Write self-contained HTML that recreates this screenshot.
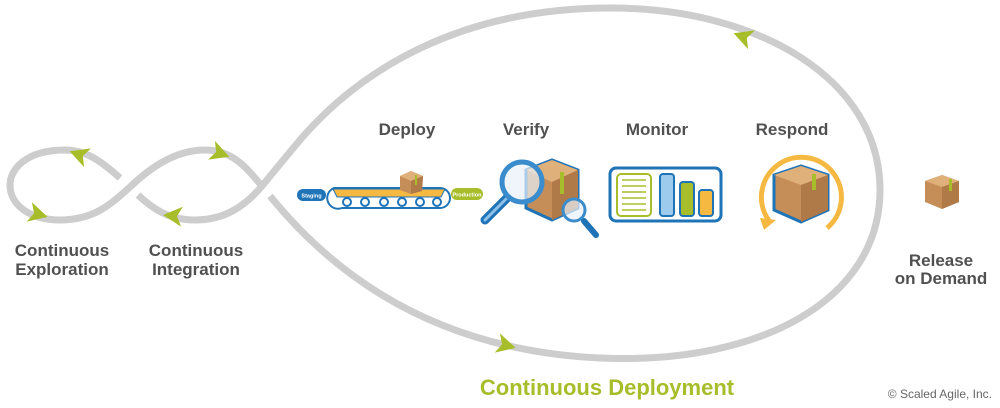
<!DOCTYPE html>
<html><head><meta charset="utf-8"><style>
html,body{margin:0;padding:0;background:#fff;width:1000px;height:408px;overflow:hidden}
svg{display:block}
text{font-family:"Liberation Sans",Arial,sans-serif;font-weight:bold}
</style></head><body>
<svg width="1000" height="408" viewBox="0 0 1000 408" xmlns="http://www.w3.org/2000/svg">
<defs><path id="ah" d="M11,0 L-8,-10 L-3,0 L-8,10 Z" fill="#a8bd2a"/></defs>
<g fill="none" stroke="#cdcdcd" stroke-width="7" stroke-linecap="butt">
<path d="M120,178 C100,160 85,150 65,150 C25,150 10,170 10,185 C10,205 30,220 60,220 C95,220 112,203 130,187 C150,168 175,150 205,150 C230,150 245,165 260,184"/>
<path d="M270,196 C330,270 430,350 600,358 C760,365 880,300 880,190 C880,80 760,8 610,8 C460,8 360,70 300,140 C285,158 275,170 262,186 C245,206 225,220 195,220 C168,220 152,208 138,195"/>
</g>
<use href="#ah" transform="translate(80,155) rotate(200)"/>
<use href="#ah" transform="translate(37,214) rotate(15)"/>
<use href="#ah" transform="translate(219,153) rotate(20)"/>
<use href="#ah" transform="translate(174,216) rotate(185)"/>
<use href="#ah" transform="translate(744,37) rotate(200)"/>
<use href="#ah" transform="translate(505,345) rotate(15)"/>
<g fill="#505050" font-size="17" text-anchor="middle">
<text x="62" y="256">Continuous</text><text x="62" y="275">Exploration</text>
<text x="196" y="256">Continuous</text><text x="196" y="275">Integration</text>
<text x="407" y="135">Deploy</text>
<text x="526" y="135">Verify</text>
<text x="657" y="135">Monitor</text>
<text x="792" y="135">Respond</text>
<text x="941" y="266">Release</text><text x="941" y="284">on Demand</text>
</g>
<text x="607" y="395" fill="#a8bd2a" font-size="22" text-anchor="middle">Continuous Deployment</text>
<text x="992" y="398" fill="#666" font-size="12" text-anchor="end" style="font-weight:normal">© Scaled Agile, Inc.</text>
<!-- deploy -->
<rect x="297" y="189" width="29" height="12" rx="6" fill="#1f73b7"/>
<text x="311.5" y="197.5" fill="#fff" font-size="5.5" text-anchor="middle">Staging</text>
<rect x="451" y="188" width="32" height="12" rx="6" fill="#a8bd2a"/>
<text x="467" y="196.5" fill="#fff" font-size="5.5" text-anchor="middle">Production</text>
<path d="M334,188 L440,188 A10,10 0 0 1 440,208 L342,208 A10,10 0 0 1 334,188 Z" fill="#fff" stroke="#1f73b7" stroke-width="2"/>
<path d="M333,189 L445,189 L441,197 L337,197 Z" fill="#f5b942" stroke="#1f73b7" stroke-width="1"/>
<g fill="#fff" stroke="#1f73b7" stroke-width="2">
<circle cx="347" cy="202" r="4"/><circle cx="365" cy="202" r="4"/><circle cx="384" cy="202" r="4"/><circle cx="402" cy="202" r="4"/><circle cx="420" cy="202" r="4"/><circle cx="437" cy="202" r="4"/>
</g>
<polygon points="400,176 411,171 423,176 422,191 411,194 400,190" fill="#c58e58"/>
<polygon points="400,176 411,171 423,176 411,181" fill="#e0b07a"/>
<polygon points="411,181 423,176 422,191 411,194" fill="#b07a48"/>
<rect x="415" y="175" width="2" height="10" fill="#a8bd2a"/>
<!-- verify -->
<polygon points="526,170 552,160 578,170 578,208 552,220 526,208" fill="#c58e58" stroke="#1f73b7" stroke-width="3"/>
<polygon points="526,170 552,160 578,170 552,182" fill="#e0b07a"/>
<polygon points="552,182 578,170 578,208 552,220" fill="#b07a48"/>
<rect x="560" y="172" width="4" height="22" fill="#a8bd2a"/>
<line x1="485" y1="220" x2="507" y2="198" stroke="#1f73b7" stroke-width="9" stroke-linecap="round"/>
<line x1="485" y1="220" x2="507" y2="198" stroke="#8fc0e8" stroke-width="3" stroke-linecap="round"/>
<circle cx="522" cy="182" r="20" fill="#e8f1f9" fill-opacity="0.7" stroke="#3a8ccc" stroke-width="5"/>
<line x1="584" y1="221" x2="596" y2="235" stroke="#1f73b7" stroke-width="6" stroke-linecap="round"/>
<circle cx="574" cy="210" r="11" fill="#e8f1f9" fill-opacity="0.7" stroke="#3a8ccc" stroke-width="3"/>
<!-- monitor -->
<rect x="610" y="168" width="111" height="53" rx="6" fill="#fff" stroke="#1f73b7" stroke-width="3"/>
<rect x="617" y="174" width="34" height="42" rx="4" fill="#fff" stroke="#a8bd2a" stroke-width="2"/>
<g stroke="#a8bd2a" stroke-width="1.5"><line x1="622" y1="180" x2="646" y2="180"/><line x1="622" y1="186" x2="646" y2="186"/><line x1="622" y1="192" x2="646" y2="192"/><line x1="622" y1="198" x2="646" y2="198"/><line x1="622" y1="204" x2="646" y2="204"/><line x1="622" y1="210" x2="646" y2="210"/></g>
<rect x="660" y="174" width="14" height="42" rx="3" fill="#9ccbed" stroke="#1f73b7" stroke-width="2"/>
<rect x="680" y="182" width="14" height="34" rx="3" fill="#a8bd2a" stroke="#1f73b7" stroke-width="2"/>
<rect x="699" y="190" width="14" height="26" rx="3" fill="#f5b942" stroke="#1f73b7" stroke-width="2"/>
<!-- respond -->
<path d="M770,222 A40,40 0 1 1 827,228" fill="none" stroke="#f5b942" stroke-width="5"/>
<polygon points="760,218 776,220 764,230" fill="#f5b942"/>
<polygon points="774,175 801,166 828,175 828,210 801,222 774,210" fill="#c58e58" stroke="#1f73b7" stroke-width="3"/>
<polygon points="774,175 801,166 828,175 801,185" fill="#e0b07a"/>
<polygon points="801,185 828,175 828,210 801,222" fill="#b07a48"/>
<rect x="812" y="174" width="4" height="16" fill="#a8bd2a"/>
<!-- release box -->
<polygon points="925,181 942,175 959,181 959,202 942,209 925,202" fill="#c58e58"/>
<polygon points="925,181 942,175 959,181 942,187" fill="#e0b07a"/>
<polygon points="942,187 959,181 959,202 942,209" fill="#b07a48"/>
<rect x="949" y="179" width="3" height="12" fill="#a8bd2a"/>
</svg>
</body></html>
